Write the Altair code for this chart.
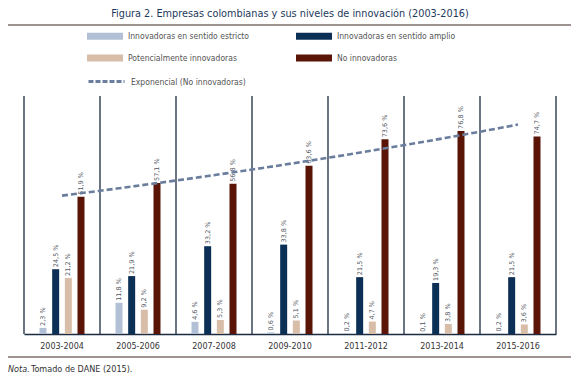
import altair as alt
import pandas as pd

# ---- data ----
periods = ["2003-2004", "2005-2006", "2007-2008", "2009-2010",
           "2011-2012", "2013-2014", "2015-2016"]
series = ["Innovadoras en sentido estricto", "Innovadoras en sentido amplio",
          "Potencialmente innovadoras", "No innovadoras"]
estricto = [2.3, 11.8, 4.6, 0.6, 0.2, 0.1, 0.2]
amplio = [24.5, 21.9, 33.2, 33.8, 21.5, 19.3, 21.5]
potencial = [21.2, 9.2, 5.3, 5.1, 4.7, 3.8, 3.6]
no_innov = [51.9, 57.1, 56.8, 63.6, 73.6, 76.8, 74.7]
trend_label = "Exponencial (No innovadoras)"
title_text = "Figura 2. Empresas colombianas y sus niveles de innovación (2003-2016)"
note_italic = ["Nota."]
note_text = ["Tomado de DANE (2015)."]

colors = ["#b1c0d4", "#0c2f56", "#d8bea9", "#5a1507"]
trend_color = "#6b7d9c"
dark = "#1b2b40"
rule_color = "#3d2a20"
cond_font = "Liberation Sans Narrow, DejaVu Sans Condensed, sans-serif"

# legend is laid out column by column: order entries so rows read like the reference
legend_order = [series[0], series[2], series[1], series[3]]
legend_colors = [colors[0], colors[2], colors[1], colors[3]]

rows = []
for s, vals in zip(series, [estricto, amplio, potencial, no_innov]):
    for p, v in zip(periods, vals):
        rows.append({"period": p, "serie": s, "value": v,
                     "label": f"{v:.1f}".replace(".", ",") + " %"})
df = pd.DataFrame(rows)

W, H = 532, 238

x_axis = alt.Axis(labelAngle=0, ticks=False, grid=False, bandPosition=0.5,
                  domainColor=dark, domainWidth=1.5,
                  labelFont="DejaVu Sans", labelFontSize=8,
                  labelColor="#333333", labelPadding=8, title=None)
x_scale = alt.Scale(paddingInner=0, paddingOuter=0)
x_enc = alt.X("period:N", sort=periods, scale=x_scale, axis=x_axis)
xo_enc = alt.XOffset("serie:N", sort=series,
                     scale=alt.Scale(paddingInner=0, paddingOuter=1))
y_enc = alt.Y("value:Q", scale=alt.Scale(domain=[0, 90]), axis=None)

base = alt.Chart(df)

bars = base.mark_bar(size=7).encode(
    x=x_enc, xOffset=xo_enc, y=y_enc,
    color=alt.Color("serie:N",
                    scale=alt.Scale(domain=legend_order, range=legend_colors),
                    legend=alt.Legend(
                        title=None, orient="none", legendX=75, legendY=-66,
                        columns=2, columnPadding=46, rowPadding=11,
                        symbolType="M-3,-0.6H3V0.6H-3Z", symbolSize=144,
                        symbolStrokeWidth=0, labelOffset=17,
                        labelFont=cond_font, labelFontSize=8.5,
                        labelColor="#555555", padding=0, labelLimit=300))
)

labels = base.mark_text(angle=270, align="left", baseline="middle", dx=2,
                        font="DejaVu Sans", fontSize=6.5,
                        color="#4f5662").encode(
    x=x_enc, xOffset=xo_enc, y=y_enc, text="label:N"
)

per_df = pd.DataFrame({"period": periods})
vlines = alt.Chart(per_df).mark_rule(color=dark, strokeWidth=1.3).encode(
    x=alt.X("period:N", sort=periods, bandPosition=0, scale=x_scale, axis=x_axis)
)
vline_end = alt.Chart(per_df).transform_filter(
    alt.datum.period == periods[-1]
).mark_rule(color=dark, strokeWidth=1.3).encode(
    x=alt.X("period:N", sort=periods, bandPosition=1, scale=x_scale, axis=x_axis)
)

group_layer = alt.layer(bars, labels, vlines, vline_end)

trend_df = pd.DataFrame({"idx": list(range(1, len(periods) + 1)),
                         "value": no_innov})
trend = alt.Chart(trend_df).transform_regression(
    "idx", "value", method="exp", extent=[1, len(periods)]
).transform_calculate(
    trend=f"'{trend_label}'"
).mark_line(strokeDash=[6, 3], strokeWidth=2.6).encode(
    x=alt.X("idx:Q", scale=alt.Scale(domain=[0.5, len(periods) + 0.5]),
            axis=None),
    y=alt.Y("value:Q", scale=alt.Scale(domain=[0, 90]), axis=None),
    stroke=alt.Stroke("trend:N", scale=alt.Scale(range=[trend_color]),
                      legend=alt.Legend(
                          title=None, orient="none", legendX=63, legendY=-34,
                          symbolType="stroke", symbolSize=1296,
                          symbolStrokeWidth=3, symbolDash=[5, 2],
                          labelOffset=5, labelFont=cond_font,
                          labelFontSize=8.5, labelColor="#555555",
                          padding=0, labelLimit=300))
)

# decorative rules under title and above note
top_rule = alt.Chart(per_df.head(1)).mark_rule(color=rule_color, strokeWidth=1.2).encode(
    x=alt.value(-16), x2=alt.value(W + 15), y=alt.value(25 - 96))
bottom_rule = alt.Chart(per_df.head(1)).mark_rule(color=rule_color, strokeWidth=1.2).encode(
    x=alt.value(-16), x2=alt.value(W + 15), y=alt.value(357 - 96))

note1 = alt.Chart(pd.DataFrame({"t": note_italic})).mark_text(
    align="left", baseline="middle", font=cond_font, fontSize=9,
    fontStyle="italic", color="#333333").encode(
    x=alt.value(-16), y=alt.value(369 - 96), text="t:N")
note2 = alt.Chart(pd.DataFrame({"t": note_text})).mark_text(
    align="left", baseline="middle", font=cond_font, fontSize=9,
    color="#333333").encode(
    x=alt.value(7), y=alt.value(369 - 96), text="t:N")

chart = alt.layer(group_layer, trend, top_rule, bottom_rule, note1, note2).resolve_scale(
    x="independent"
).properties(
    width=W, height=H,
    autosize=alt.AutoSizeParams(type="none"),
    padding={"left": 16, "top": 88, "right": 15, "bottom": 40},
    title=alt.TitleParams(title_text, font=cond_font, fontSize=10.8,
                          fontWeight="normal", color="#1d3a5c",
                          anchor="middle", frame="group", offset=6),
).configure_view(stroke=None)

chart.save("out.html", embed_options={"renderer": "svg", "actions": False})
